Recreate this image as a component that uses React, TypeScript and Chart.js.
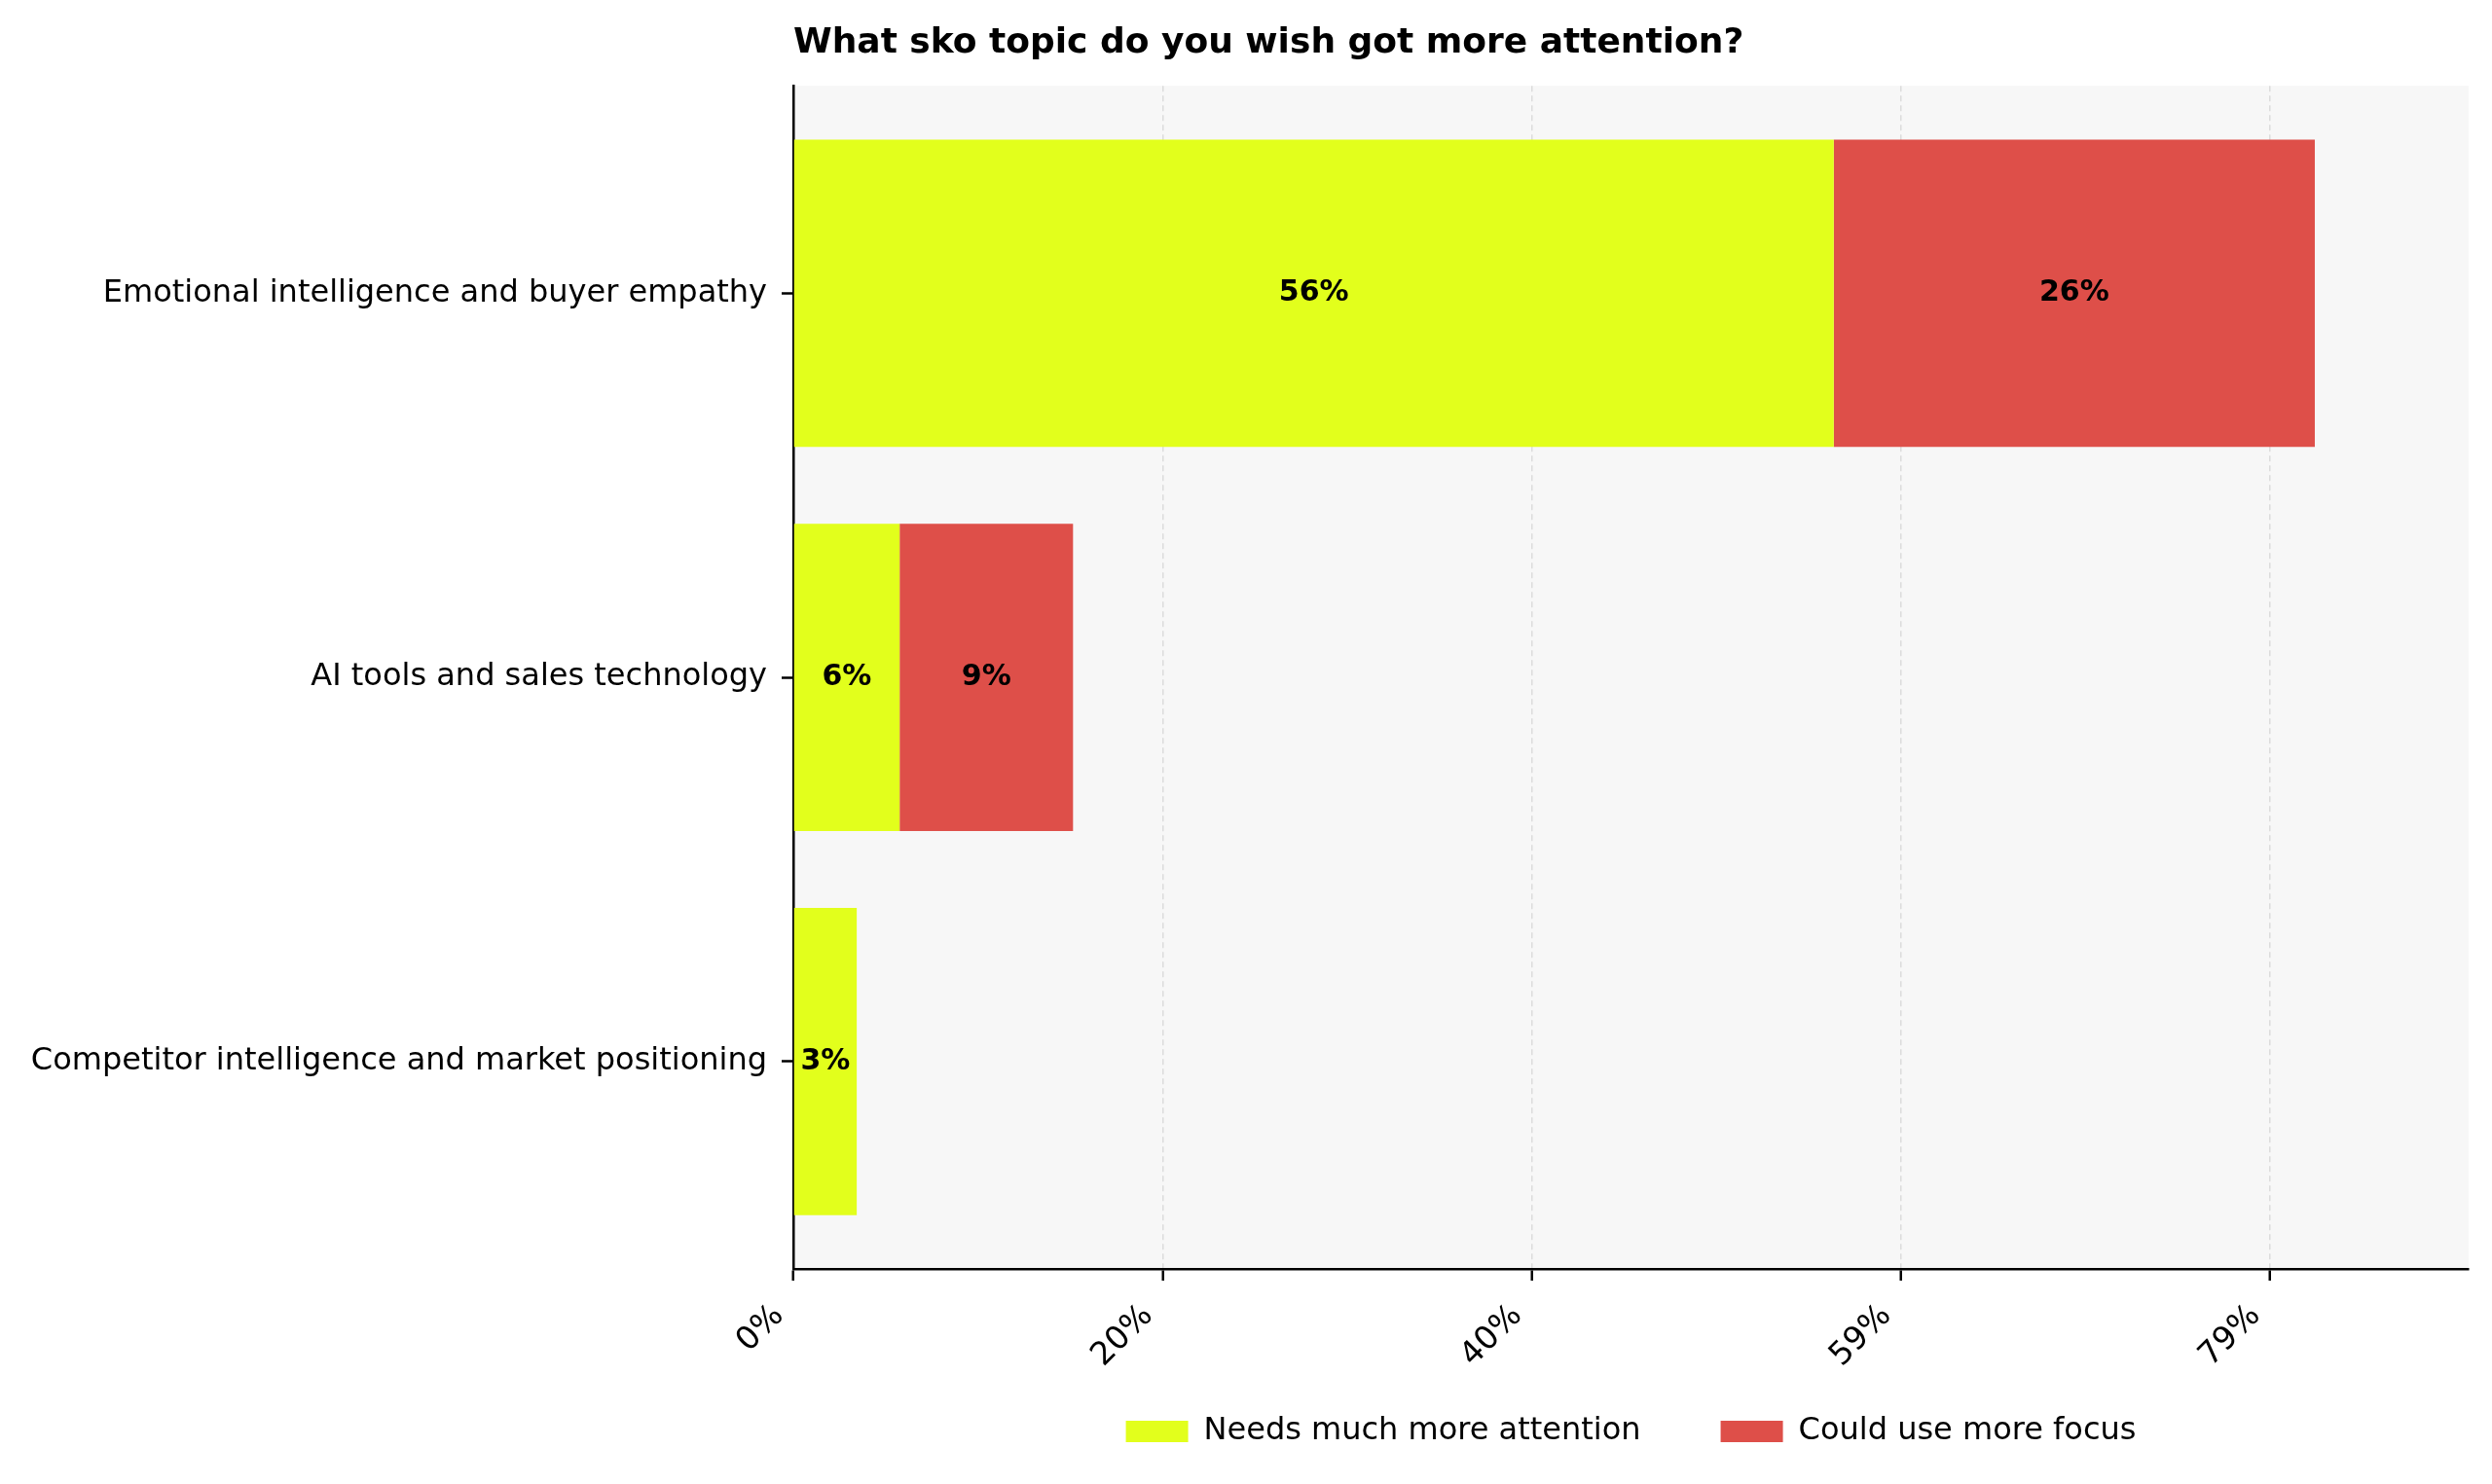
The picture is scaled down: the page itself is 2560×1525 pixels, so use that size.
import React, { useEffect, useRef } from "react";
import { Chart, registerables } from "chart.js";

Chart.register(...registerables);

const chartTitle = "What sko topic do you wish got more attention?";
const categories = [
  "Emotional intelligence and buyer empathy",
  "AI tools and sales technology",
  "Competitor intelligence and market positioning",
];
const seriesNames = ["Needs much more attention", "Could use more focus"];
const needsMuchMore = [55.8, 5.7, 3.4];
const couldUseMore = [25.8, 9.3, 0];
const xTickValues = [0, 19.8, 39.6, 59.4, 79.2];
const xTickLabels = ["0%", "20%", "40%", "59%", "79%"];
const xMax = 89.85;
const yMin = -0.54;
const yMax = 2.54;

const COLOR_NEEDS = "#E2FF1C";
const COLOR_COULD = "#DE4F49";
const PLOT_BG = "#F7F7F7";
const FONT = "'DejaVu Sans', 'Liberation Sans', sans-serif";

const bgPlugin = {
  id: "plotBg",
  beforeDraw(chart: any) {
    const { ctx, chartArea, width, height } = chart;
    ctx.save();
    ctx.fillStyle = "#FFFFFF";
    ctx.fillRect(0, 0, width, height);
    ctx.fillStyle = PLOT_BG;
    ctx.fillRect(chartArea.left, chartArea.top, chartArea.right - chartArea.left, chartArea.bottom - chartArea.top);
    ctx.restore();
  },
};

const barLabelPlugin = {
  id: "barLabels",
  afterDatasetsDraw(chart: any) {
    const ctx = chart.ctx;
    ctx.save();
    ctx.font = `bold 30px ${FONT}`;
    ctx.fillStyle = "#000";
    ctx.textAlign = "center";
    ctx.textBaseline = "middle";
    chart.data.datasets.forEach((ds: any, di: number) => {
      const meta = chart.getDatasetMeta(di);
      meta.data.forEach((el: any, i: number) => {
        const v = ds.data[i].x;
        if (!v) return;
        const p = el.getCenterPoint();
        ctx.fillText(`${Math.round(v)}%`, p.x, p.y);
      });
    });
    ctx.restore();
  },
};

export default function App() {
  const ref = useRef<HTMLCanvasElement | null>(null);

  useEffect(() => {
    if (!ref.current) return;
    const toPoints = (arr: number[]) => arr.map((v, i) => ({ x: v, y: i }));
    const chart = new Chart(ref.current, {
      type: "bar",
      data: {
        datasets: [
          {
            label: seriesNames[0],
            data: toPoints(needsMuchMore),
            backgroundColor: COLOR_NEEDS,
            borderWidth: 0,
            barPercentage: 1,
            categoryPercentage: 0.8,
          },
          {
            label: seriesNames[1],
            data: toPoints(couldUseMore),
            backgroundColor: COLOR_COULD,
            borderWidth: 0,
            barPercentage: 1,
            categoryPercentage: 0.8,
          },
        ],
      } as any,
      options: {
        indexAxis: "y",
        animation: false,
        responsive: false,
        devicePixelRatio: 1,
        layout: { padding: { left: 0, right: 24, top: 0, bottom: 28 } },
        scales: {
          x: {
            type: "linear",
            stacked: true,
            offset: false,
            min: 0,
            max: xMax,
            afterBuildTicks: (scale: any) => {
              scale.ticks = xTickValues.map((v) => ({ value: v }));
            },
            afterFit: (scale: any) => {
              scale.height = 69;
              // let the rotated labels extend below the (shortened) axis box
              scale._computeLabelArea = () => undefined;
            },
            ticks: {
              callback: (_v: any, i: number) => xTickLabels[i],
              minRotation: 45,
              maxRotation: 45,
              autoSkip: false,
              padding: 17,
              labelOffset: -15,
              color: "#000",
              font: { family: FONT, size: 33 },
            },
            grid: {
              offset: false,
              color: "#DCDCDC",
              lineWidth: 1.5,
              drawOnChartArea: true,
              drawTicks: true,
              tickLength: 12,
              tickColor: "#000",
              tickWidth: 2.5,
            },
            border: { display: true, color: "#000", width: 2.5, dash: [6, 4] },
          },
          y: {
            type: "linear",
            stacked: true,
            reverse: true,
            offset: false,
            min: yMin,
            max: yMax,
            afterBuildTicks: (scale: any) => {
              scale.ticks = categories.map((_c, i) => ({ value: i }));
            },
            afterFit: (scale: any) => {
              scale.width = 815;
            },
            ticks: {
              callback: (v: any) => categories[v as number],
              autoSkip: false,
              padding: 15,
              color: "#000",
              font: { family: FONT, size: 32 },
            },
            grid: {
              offset: false,
              drawOnChartArea: false,
              drawTicks: true,
              tickLength: 12,
              tickColor: "#000",
              tickWidth: 2.5,
            },
            border: { display: true, color: "#000", width: 2.5 },
          },
        } as any,
        plugins: {
          title: {
            display: true,
            text: chartTitle,
            align: "start",
            fullSize: false,
            color: "#000",
            font: { family: FONT, size: 36, weight: "bold" },
            padding: { top: 23, bottom: 22 },
          },
          legend: {
            display: true,
            position: "bottom",
            fullSize: false,
            labels: {
              color: "#000",
              font: { family: FONT, size: 32 },
              boxWidth: 64,
              boxHeight: 22,
              padding: 82,
            },
          },
          tooltip: { enabled: false },
        },
      } as any,
      plugins: [bgPlugin, barLabelPlugin],
    });
    return () => chart.destroy();
  }, []);

  return (
    <div style={{ position: "fixed", left: 0, top: 0, width: 2560, height: 1525, background: "#fff" }}>
      <canvas ref={ref} width={2560} height={1525} style={{ width: 2560, height: 1525, display: "block" }} />
    </div>
  );
}
